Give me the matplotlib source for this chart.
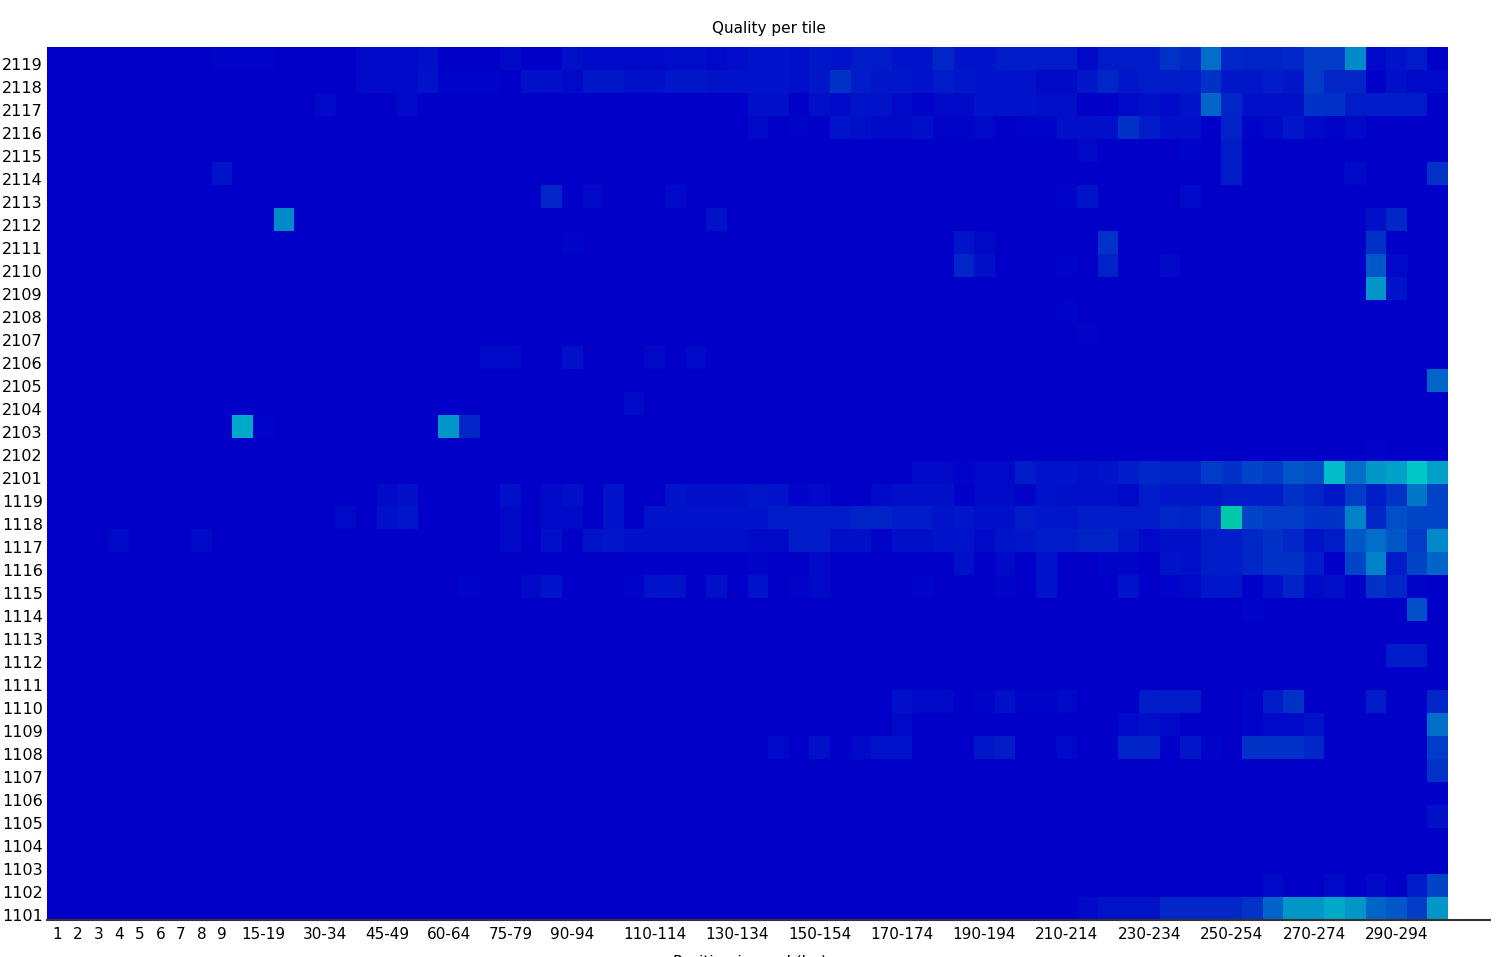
import matplotlib
matplotlib.use("Agg")
import matplotlib.pyplot as plt
import numpy as np
from matplotlib.colors import LinearSegmentedColormap
from matplotlib.lines import Line2D
from matplotlib.transforms import ScaledTranslation

# ---- categories ----
tiles = [2119, 2118, 2117, 2116, 2115, 2114, 2113, 2112, 2111, 2110,
         2109, 2108, 2107, 2106, 2105, 2104, 2103, 2102, 2101,
         1119, 1118, 1117, 1116, 1115, 1114, 1113, 1112, 1111, 1110,
         1109, 1108, 1107, 1106, 1105, 1104, 1103, 1102, 1101]

positions = [str(i) for i in range(1, 10)] + \
            [f"{s}-{s + 4}" for s in range(10, 300, 5)] + ["300-301"]

shown_labels = ["1", "2", "3", "4", "5", "6", "7", "8", "9", "15-19",
                "30-34", "45-49", "60-64", "75-79", "90-94", "110-114",
                "130-134", "150-154", "170-174", "190-194", "210-214",
                "230-234", "250-254", "270-274", "290-294"]

# ---- values: deviation level per tile, {position-group index: value}, unlisted = 0 ----
deviation = {
    2119: {8: .3, 9: .3, 10: .3, 15: .5, 16: .5, 17: .5, 18: .8, 22: .5, 25: .8, 26: .5, 27: .5,
           28: .6, 29: .6, 30: .7, 31: .7, 32: .6, 33: .7, 34: 1, 35: 1, 36: .8, 37: 1.2, 38: 1,
           39: 1.5, 40: 1.5, 41: 1, 42: 1, 43: 2, 44: 1, 45: 1, 46: 1.5, 47: 1.5, 48: 1.5, 49: 1.5,
           50: .5, 51: 1.5, 52: 1.5, 53: 1.5, 54: 2.5, 55: 2, 56: 5.5, 57: 2, 58: 1.8, 59: 1.8,
           60: 2, 61: 3, 62: 3, 63: 7, 64: .5, 65: 1, 66: 1.5},
    2118: {15: .5, 16: .5, 17: .5, 18: 1, 19: .3, 20: .3, 21: .3, 23: .8, 24: .8, 25: .5, 26: 1.2,
           27: 1.2, 28: .8, 29: .8, 30: 1.2, 31: 1.2, 32: 1, 33: 1, 34: 1, 35: 1, 36: .8, 37: 1.2,
           38: 2.5, 39: 1.5, 40: 1.2, 41: 1.2, 42: 1, 43: 1.5, 44: 1.2, 45: 1, 46: 1, 47: 1, 48: .5,
           49: .5, 50: 1.2, 51: 2, 52: 1.2, 53: 1.5, 54: 1.5, 55: 1.5, 56: 2.5, 57: 1.2, 58: 1.2,
           59: 1.5, 60: 1.2, 61: 3, 62: 2, 63: 2, 65: .8, 66: .5, 67: .5},
    2117: {13: .5, 17: .5, 34: .8, 35: .8, 37: .8, 38: .5, 39: 1, 40: 1, 41: .5, 42: .3, 43: .5,
           44: .5, 45: 1, 46: 1, 47: 1, 48: .8, 49: .8, 52: .5, 53: .8, 54: .5, 55: 1, 56: 5, 57: 2,
           58: .8, 59: .8, 60: .8, 61: 2.5, 62: 2.5, 63: 1.5, 64: 1.5, 65: 1.5, 66: 1.5},
    2116: {34: .5, 36: .3, 38: 1, 39: .8, 40: .5, 41: .5, 42: .8, 43: .3, 44: .3, 45: .5, 47: .2,
           48: .2, 49: .8, 50: .8, 51: .8, 52: 2.5, 53: 1.5, 54: .8, 55: .8, 57: 1.8, 58: .2,
           59: .5, 60: 1.2, 61: .5, 62: .2, 63: .5},
    2115: {50: .5, 55: .3, 57: 1.5},
    2114: {8: 1, 57: 1.5, 63: .5, 67: 2.5},
    2113: {24: 2, 26: .5, 30: .5, 49: .3, 50: 1, 55: .5},
    2112: {11: 7, 32: 1, 64: .8, 65: 2},
    2111: {25: .3, 44: 1, 45: .5, 51: 2.5, 64: 2.5},
    2110: {44: 2, 45: .8, 49: .2, 51: 1.8, 54: .5, 64: 4.5, 65: .5},
    2109: {64: 7.5, 65: 1},
    2108: {49: .3},
    2107: {50: .3},
    2106: {21: .5, 22: .5, 25: .8, 29: .5, 31: .5},
    2105: {67: 5},
    2104: {28: .5},
    2103: {9: 8.5, 10: .3, 19: 7.5, 20: 2},
    2102: {64: .3},
    2101: {42: .5, 43: .5, 44: .2, 45: .5, 46: .5, 47: 1.5, 48: 1, 49: 1, 50: .8, 51: 1, 52: 1.5,
           53: 2, 54: 1.8, 55: 1.8, 56: 3, 57: 2.5, 58: 3.5, 59: 3, 60: 4.5, 61: 4, 62: 9.5,
           63: 5.5, 64: 7.5, 65: 8, 66: 10, 67: 8},
    1119: {16: .5, 17: .8, 22: .8, 24: .5, 25: .8, 27: 1, 30: 1, 31: .8, 32: .8, 33: .8, 34: 1.2,
           35: 1, 36: .3, 37: .5, 40: .5, 41: .8, 42: .8, 43: .8, 45: .5, 46: .5, 47: .3, 48: 1,
           49: .8, 50: .8, 51: .8, 52: .5, 53: 1.5, 54: 1.2, 55: 1.2, 56: 1.2, 57: 1.5, 58: 1.5,
           59: 1.5, 60: 2.5, 61: 2, 62: 1.2, 63: 3, 64: 1.5, 65: 2.5, 66: 6, 67: 3.5},
    1118: {14: .5, 16: .8, 17: 1.2, 22: .5, 24: .5, 25: .5, 27: 1, 29: 1, 30: 1, 31: 1, 32: 1,
           33: 1, 34: 1, 35: 1.5, 36: 1.5, 37: 1.5, 38: 1.5, 39: 1.8, 40: 1.8, 41: 1.5, 42: 1.5,
           43: 1, 44: 1.2, 45: .8, 46: .8, 47: 1.5, 48: 1.2, 49: 1.2, 50: 1.5, 51: 1.5, 52: 1.5,
           53: 1.5, 54: 2, 55: 1.8, 56: 2.5, 57: 11.5, 58: 3.5, 59: 3, 60: 3, 61: 2.5, 62: 2.5,
           63: 6.5, 64: 2, 65: 4, 66: 3.5, 67: 3.5},
    1117: {3: .5, 7: .5, 22: .5, 24: .8, 26: 1, 27: 1.2, 28: .8, 29: .8, 30: .8, 31: .8, 32: .8,
           33: .8, 34: .5, 35: .5, 36: 1.5, 37: 1.5, 38: .8, 39: .8, 40: .3, 41: .8, 42: .8, 43: 1,
           44: 1, 45: .5, 46: 1, 47: 1.2, 48: 1.5, 49: 1.5, 50: 1.8, 51: 1.8, 52: 1.2, 53: .5,
           54: .8, 55: .8, 56: 1.5, 57: 1.5, 58: 2, 59: 2.5, 60: 2, 61: 1, 62: 1.5, 63: 4.5,
           64: 5.5, 65: 4.5, 66: 3, 67: 7},
    1116: {34: .3, 37: .5, 44: .8, 46: .5, 48: 1, 51: .3, 52: .3, 54: 1, 55: .8, 56: 1.5, 57: 1.5,
           58: 2, 59: 2.5, 60: 2.5, 61: 1.5, 63: 3.5, 64: 6.5, 65: 1.5, 66: 3.5, 67: 5},
    1115: {20: .3, 23: .5, 24: 1, 28: .3, 29: 1, 30: 1, 32: .8, 34: 1, 36: .3, 37: .5, 42: .3,
           46: .3, 48: 1, 52: 1, 54: .3, 55: .5, 56: 1.2, 57: 1.2, 59: .8, 60: 1.8, 61: .5,
           62: .8, 64: 2.5, 65: 2, 66: .2},
    1114: {58: .3, 66: 4},
    1113: {},
    1112: {65: 1.5, 66: 1.5},
    1111: {},
    1110: {41: .8, 42: .5, 43: .5, 45: .3, 46: .8, 47: .3, 48: .3, 49: .5, 53: 1.5, 54: 1.5,
           55: 1.5, 58: .3, 59: 1.5, 60: 2.5, 64: 1.5, 67: 2},
    1109: {41: .5, 52: .5, 53: .8, 54: .5, 58: .3, 59: .5, 60: .5, 61: 1, 67: 5.5},
    1108: {35: .5, 37: .8, 39: .5, 40: 1, 41: 1, 45: 1.2, 46: 1.5, 49: .5, 52: 1.8, 53: 1.8,
           55: 1.2, 56: .3, 58: 2.5, 59: 2.5, 60: 2.5, 61: 2, 67: 3},
    1107: {67: 2.5},
    1106: {},
    1105: {67: .8},
    1104: {},
    1103: {},
    1102: {59: .5, 62: .5, 64: .5, 66: 1.5, 67: 3.5},
    1101: {50: .5, 51: 1, 52: 1, 53: 1, 54: 2, 55: 2, 56: 2, 57: 2, 58: 2.5, 59: 5, 60: 7.5,
           61: 7.5, 62: 8.5, 63: 7.5, 64: 5, 65: 4.5, 66: 3, 67: 7.5},
}

# ---- build matrix ----
Z = np.zeros((len(tiles), len(positions)))
for r, t in enumerate(tiles):
    for c, v in deviation[t].items():
        Z[r, c] = v

cmap = LinearSegmentedColormap.from_list(
    "hotcold",
    [(0.0, (0, 0, 200 / 255)), (0.25, (0, 200 / 255, 200 / 255)),
     (0.5, (0, 200 / 255, 0)), (0.75, (200 / 255, 200 / 255, 0)),
     (1.0, (200 / 255, 0, 0))])

W, H = 1500, 957
fig = plt.figure(figsize=(W / 100, H / 100), dpi=100)
fig.patch.set_facecolor("white")
ax = fig.add_axes([47 / W, 1 - 920 / H, 1401 / W, 873 / H])

ax.pcolormesh(np.arange(len(positions) + 1), np.arange(len(tiles) + 1), Z,
              cmap=cmap, vmin=0, vmax=40, shading="flat")
ax.set_xlim(0, len(positions))
ax.set_ylim(len(tiles), 0)

ax.set_yticks(np.arange(len(tiles)) + 0.5)
ax.set_yticklabels([str(t) for t in tiles], fontsize=11.5)
xt = [positions.index(l) + 0.5 for l in shown_labels]
ax.set_xticks(xt)
ax.set_xticklabels(shown_labels, fontsize=11)
ax.tick_params(axis="both", length=0)
ax.tick_params(axis="y", pad=3)
ax.tick_params(axis="x", pad=5)
for s in ax.spines.values():
    s.set_visible(False)

# y labels sit slightly below row centres, as in the reference
shift = ScaledTranslation(0, -6 / 100, fig.dpi_scale_trans)
for lab in ax.get_yticklabels():
    lab.set_transform(lab.get_transform() + shift)

# bottom axis line extending past the plot
yb = 1 - 920 / H
fig.add_artist(Line2D([47 / W, 1490 / W], [yb, yb], color="#333333", lw=1.5))

fig.text(769 / W, 1 - 28 / H, "Quality per tile", ha="center", va="center", fontsize=11)
fig.text(750 / W, 1 - 962 / H, "Position in read (bp)", ha="center", va="center", fontsize=11)

fig.savefig("out.png", dpi=100)
